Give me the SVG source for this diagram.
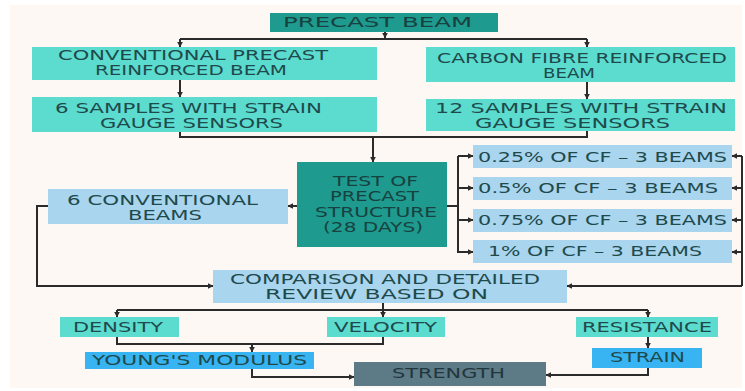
<svg xmlns="http://www.w3.org/2000/svg" width="745" height="391" viewBox="0 0 745 391">
<defs>
<marker id="ah" viewBox="0 0 10 10" refX="9" refY="5" markerWidth="6" markerHeight="6" markerUnits="userSpaceOnUse" orient="auto">
<path d="M0,0 L10,5 L0,10 z" fill="#2b2b2b"/>
</marker>
<style>
.t{font-family:"DejaVu Sans","Liberation Sans",sans-serif;font-size:14px;fill:#1f4a4c;}
.dk{fill:#17423f;}
.teal{fill:#1e9a8e;}
.tq{fill:#5cdccf;}
.lb{fill:#a9d5ee;}
.bb{fill:#38b4f2;}
.sl{fill:#5d7a87;}
.c{fill:none;stroke:#2b2b2b;stroke-width:2;}
.a{marker-end:url(#ah);}
</style>
</defs>
<rect x="0" y="0" width="745" height="391" fill="#ffffff"/>
<rect x="10" y="5" width="732" height="383" fill="#fdf8f3"/>

<g id="connectors">
<path class="c a" d="M385,32 V38"/>
<path class="c" d="M180,39 H587"/>
<path class="c a" d="M180,39 V47"/>
<path class="c a" d="M587,39 V47"/>
<path class="c a" d="M180,80 V97"/>
<path class="c a" d="M587,82 V99"/>
<path class="c" d="M180,132 V137 H587 V131"/>
<path class="c a" d="M373,137 V162"/>
<path class="c a" d="M297,206 H288"/>
<path class="c a" d="M48,206 H37 V286 H213"/>
<path class="c" d="M447,206 H458 M458,156 V253"/>
<path class="c a" d="M458,156 H473"/>
<path class="c a" d="M458,188 H473"/>
<path class="c a" d="M458,220 H473"/>
<path class="c a" d="M458,252 H473"/>
<path class="c" d="M742,156 V286"/>
<path class="c a" d="M742,156 H732"/>
<path class="c a" d="M742,188 H732"/>
<path class="c a" d="M742,220 H732"/>
<path class="c a" d="M742,252 H732"/>
<path class="c a" d="M742,286 H567"/>
<path class="c" d="M383,303 V310 M117,310 H648"/>
<path class="c a" d="M117,310 V317"/>
<path class="c a" d="M383,310 V317"/>
<path class="c a" d="M648,310 V317"/>
<path class="c" d="M117,337 V344 H383 V337"/>
<path class="c a" d="M252,344 V352"/>
<path class="c a" d="M252,369 V377 H354"/>
<path class="c a" d="M648,337 V348"/>
<path class="c a" d="M648,368 V375 H546"/>
</g>

<g id="precast-beam">
<rect class="teal" x="270" y="13" width="228" height="19"/>
<text class="t dk" x="283" y="27" textLength="189" lengthAdjust="spacingAndGlyphs">PRECAST BEAM</text>
</g>
<g id="conventional">
<rect class="tq" x="32" y="47" width="345" height="33"/>
<text class="t" x="58" y="59.5" textLength="270" lengthAdjust="spacingAndGlyphs">CONVENTIONAL  PRECAST</text>
<text class="t" x="95" y="74.5" textLength="192" lengthAdjust="spacingAndGlyphs">REINFORCED BEAM</text>
</g>
<g id="carbon">
<rect class="tq" x="426" y="47" width="309" height="35"/>
<text class="t" x="437" y="62.5" textLength="290" lengthAdjust="spacingAndGlyphs">CARBON FIBRE REINFORCED</text>
<text class="t" x="543" y="77.5" textLength="52" lengthAdjust="spacingAndGlyphs">BEAM</text>
</g>
<g id="samples6">
<rect class="tq" x="32" y="97" width="345" height="35"/>
<text class="t" x="55" y="112.5" textLength="267" lengthAdjust="spacingAndGlyphs">6 SAMPLES WITH STRAIN</text>
<text class="t" x="100" y="127.5" textLength="183" lengthAdjust="spacingAndGlyphs">GAUGE SENSORS</text>
</g>
<g id="samples12">
<rect class="tq" x="426" y="99" width="309" height="32"/>
<text class="t" x="435" y="112.5" textLength="292" lengthAdjust="spacingAndGlyphs">12 SAMPLES WITH STRAIN</text>
<text class="t" x="475" y="127.5" textLength="195" lengthAdjust="spacingAndGlyphs">GAUGE SENSORS</text>
</g>
<g id="test">
<rect class="teal" x="297" y="162" width="150" height="85"/>
<text class="t dk" x="333" y="186" textLength="85" lengthAdjust="spacingAndGlyphs">TEST OF</text>
<text class="t dk" x="330" y="201" textLength="89" lengthAdjust="spacingAndGlyphs">PRECAST</text>
<text class="t dk" x="315" y="217" textLength="122" lengthAdjust="spacingAndGlyphs">STRUCTURE</text>
<text class="t dk" x="323" y="232" textLength="100" lengthAdjust="spacingAndGlyphs">(28 DAYS)</text>
</g>
<g id="conv-beams">
<rect class="lb" x="48" y="189" width="240" height="35"/>
<text class="t" x="67" y="205" textLength="191" lengthAdjust="spacingAndGlyphs">6 CONVENTIONAL</text>
<text class="t" x="128" y="220" textLength="74" lengthAdjust="spacingAndGlyphs">BEAMS</text>
</g>
<g id="cf025">
<rect class="lb" x="473" y="145" width="259" height="23"/>
<text class="t" x="478" y="162" textLength="249" lengthAdjust="spacingAndGlyphs">0.25% OF CF – 3 BEAMS</text>
</g>
<g id="cf05">
<rect class="lb" x="473" y="177" width="259" height="23"/>
<text class="t" x="478" y="193" textLength="240" lengthAdjust="spacingAndGlyphs">0.5% OF CF – 3 BEAMS</text>
</g>
<g id="cf075">
<rect class="lb" x="473" y="209" width="259" height="23"/>
<text class="t" x="478" y="225" textLength="249" lengthAdjust="spacingAndGlyphs">0.75% OF CF – 3 BEAMS</text>
</g>
<g id="cf1">
<rect class="lb" x="473" y="240" width="259" height="23"/>
<text class="t" x="488" y="256" textLength="214" lengthAdjust="spacingAndGlyphs">1% OF CF – 3 BEAMS</text>
</g>
<g id="comparison">
<rect class="lb" x="213" y="270" width="354" height="33"/>
<text class="t" x="230" y="283.5" textLength="310" lengthAdjust="spacingAndGlyphs">COMPARISON AND DETAILED</text>
<text class="t" x="265" y="298.5" textLength="223" lengthAdjust="spacingAndGlyphs">REVIEW BASED ON</text>
</g>
<g id="density">
<rect class="tq" x="60" y="317" width="119" height="20"/>
<text class="t" x="73" y="332" textLength="90" lengthAdjust="spacingAndGlyphs">DENSITY</text>
</g>
<g id="velocity">
<rect class="tq" x="327" y="317" width="118" height="20"/>
<text class="t" x="334" y="332" textLength="103" lengthAdjust="spacingAndGlyphs">VELOCITY</text>
</g>
<g id="resistance">
<rect class="tq" x="576" y="317" width="142" height="20"/>
<text class="t" x="582" y="332" textLength="130" lengthAdjust="spacingAndGlyphs">RESISTANCE</text>
</g>
<g id="youngs">
<rect class="bb" x="85" y="352" width="229" height="17"/>
<text class="t" x="92" y="365" textLength="215" lengthAdjust="spacingAndGlyphs">YOUNG'S MODULUS</text>
</g>
<g id="strain">
<rect class="bb" x="592" y="348" width="110" height="20"/>
<text class="t" x="610" y="362" textLength="75" lengthAdjust="spacingAndGlyphs">STRAIN</text>
</g>
<g id="strength">
<rect class="sl" x="354" y="362" width="192" height="24"/>
<text class="t" x="392" y="378" textLength="113" lengthAdjust="spacingAndGlyphs" style="fill:#22363d">STRENGTH</text>
</g>
</svg>
